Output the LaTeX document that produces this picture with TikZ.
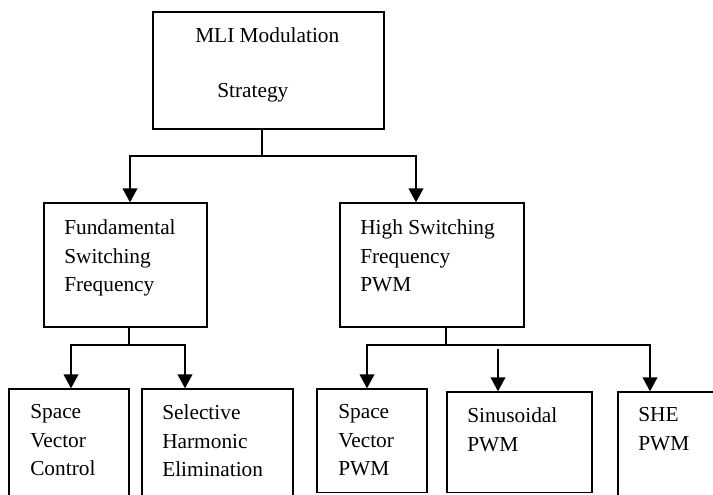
\documentclass[tikz,border=0pt]{standalone}
\usepackage{fontspec}
\setmainfont{Liberation Serif}
\usetikzlibrary{arrows.meta,fit}
\begin{document}
\begin{tikzpicture}[x=0.75pt,y=-0.75pt,
  box/.style={draw, line width=1pt, inner sep=0pt, rectangle},
  txt/.style={inner sep=0pt, align=left, font=\fontsize{16}{21.4}\selectfont},
  arr/.style={line width=1.4pt, -{Triangle[width=11pt,length=10.5pt]}},
  thinline/.style={line width=0.8pt}]
\useasboundingbox (0,0) rectangle (713,494);
\clip (0,0) rectangle (713,494);
% boxes
\node[box, fit={(153,12) (384,129)}] (top) {};
\node[box, fit={(44,203) (207,327)}] (fund) {};
\node[box, fit={(340,203) (524,327)}] (high) {};
\node[box, fit={(9,389) (129,505)}] (svc) {};
\node[box, fit={(142,389) (293,505)}] (sel) {};
\node[box, fit={(317,389) (427,492.5)}] (svp) {};
\node[box, fit={(447,392) (592,492.5)}] (sin) {};
\node[box, fit={(618,392) (730,505)}] (she) {};
% texts
\node[txt, anchor=base west] (tA) at (195,42) {MLI Modulation};
\node[txt, anchor=base west] (tB) at (217,97) {Strategy};
\node[txt, anchor=north west] (tfund) at (64,219.4) {Fundamental\\Switching\\Frequency};
\node[txt, anchor=north west] (thigh) at (360,219.4) {High Switching\\Frequency\\PWM};
\node[txt, anchor=north west] (tsvc) at (30,404.4) {Space\\Vector\\Control};
\node[txt, anchor=north west] (tsel) at (162,404.4) {Selective\\Harmonic\\Elimination};
\node[txt, anchor=north west] (tsvp) at (338,404.4) {Space\\Vector\\PWM};
\node[txt, anchor=north west] (tsin) at (467,407.4) {Sinusoidal\\PWM};
\node[txt, anchor=north west] (tshe) at (638,407.4) {SHE\\PWM};
% junction coordinates
\coordinate (j1) at (262,156);
\coordinate (a1) at (130,0);
\coordinate (a2) at (416,0);
\coordinate (j2) at (129,345);
\coordinate (b1) at (71,0);
\coordinate (b2) at (185,0);
\coordinate (j3) at (446,345);
\coordinate (c1) at (367,0);
\coordinate (c3) at (650,0);
\coordinate (m) at (498,349);
% connectors
\draw[thinline] (top.south -| j1) -- (j1);
\draw[arr] (j1) -| (fund.north -| a1);
\draw[arr] (j1) -| (high.north -| a2);
\draw[thinline] (fund.south -| j2) -- (j2);
\draw[arr] (j2) -| (svc.north -| b1);
\draw[arr] (j2) -| (sel.north -| b2);
\draw[thinline] (high.south -| j3) -- (j3);
\draw[arr] (j3) -| (svp.north -| c1);
\draw[arr] (j3) -| (she.north -| c3);
\draw[arr] (m) -- (sin.north -| m);
\end{tikzpicture}
\end{document}
